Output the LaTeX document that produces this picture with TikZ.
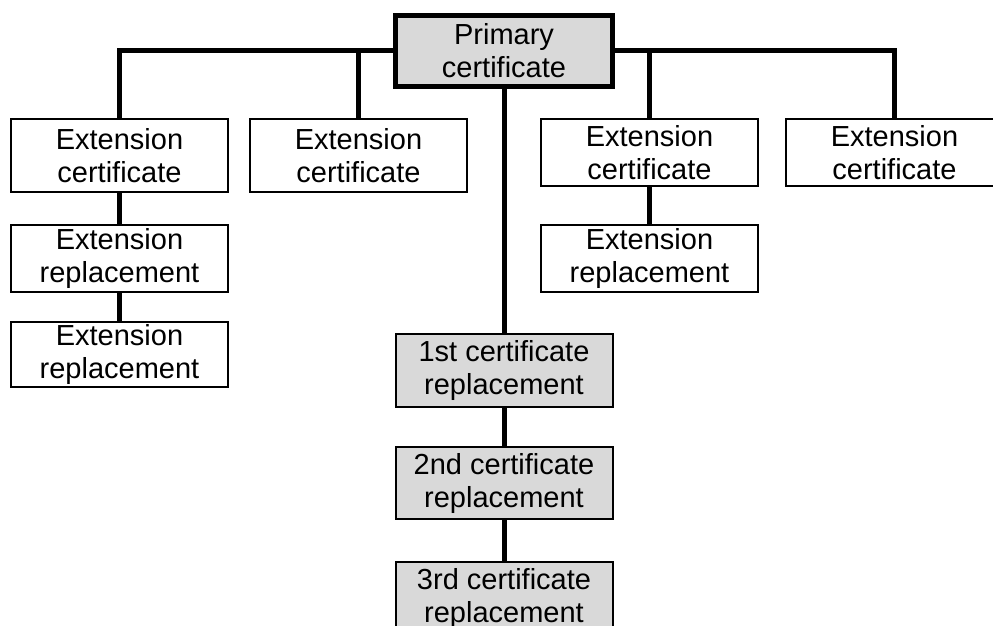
\documentclass[tikz,border=0pt]{standalone}
\usepackage{fontspec}
\setmainfont{Liberation Sans}
\definecolor{certgrey}{RGB}{217,217,217}
\tikzset{
  certbox/.style={draw, line width=2pt, fill=white, minimum width=217pt,
    inner sep=0pt, align=center, font=\fontsize{29}{33}\selectfont},
  greybox/.style={certbox, fill=certgrey},
  link/.style={line width=5pt}
}
\begin{document}
\begin{tikzpicture}[x=1pt,y=-1pt]
    \useasboundingbox (0,0) rectangle (993,626);

    % Главный сертификат
    \node[greybox, line width=5pt, minimum height=71pt] (primary) at (504,51) {Primary\\certificate};

    % Сертификаты расширения
    \node[certbox, minimum height=73pt] (ext1) at (119.5,155.5) {Extension\\certificate};
    \node[certbox, minimum height=73pt] (ext2) at (358.5,155.5) {Extension\\certificate};
    \node[certbox, minimum height=67pt] (ext3) at (649.5,152.5) {Extension\\certificate};
    \node[certbox, minimum height=67pt] (ext4) at (894.5,152.5) {Extension\\certificate};

    % Замены расширений
    \node[certbox, minimum height=67pt] (extrep1) at (119.5,258.5) {Extension\\replacement};
    \node[certbox, minimum height=65pt] (extrep2) at (119.5,354.5) {Extension\\replacement};
    \node[certbox, minimum height=67pt] (extrep3) at (649.5,258.5) {Extension\\replacement};

    % Замены главного сертификата
    \node[greybox, minimum height=73pt] (rep1) at (504,370.5) {1st certificate\\replacement};
    \node[greybox, minimum height=72pt] (rep2) at (504,483) {2nd certificate\\replacement};
    \node[greybox, minimum height=72pt] (rep3) at (504,598) {3rd certificate\\replacement};

    % Связи
    \draw[link] (ext1.north) |- (primary.west);
    \draw[link] (ext2.north) |- (primary.west);
    \draw[link] (ext3.north) |- (primary.east);
    \draw[link] (ext4.north) |- (primary.east);
    \draw[link] (ext1.south) -- (extrep1.north);
    \draw[link] (extrep1.south) -- (extrep2.north);
    \draw[link] (ext3.south) -- (extrep3.north);
    \draw[link] (primary.south) -- (rep1.north);
    \draw[link] (rep1.south) -- (rep2.north);
    \draw[link] (rep2.south) -- (rep3.north);
\end{tikzpicture}
\end{document}
